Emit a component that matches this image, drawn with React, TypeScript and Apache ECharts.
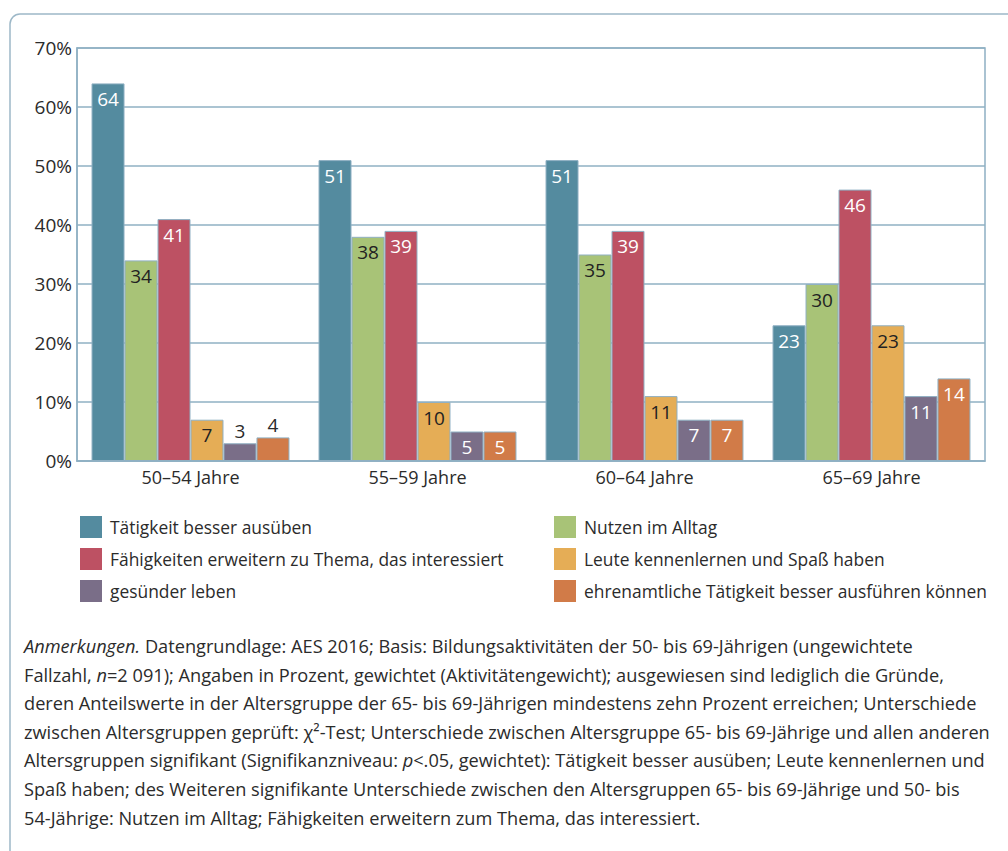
import React, { useEffect, useRef } from "react";
import * as echarts from "echarts";

const categories = ["50–54 Jahre", "55–59 Jahre", "60–64 Jahre", "65–69 Jahre"];
const seriesNames = [
  "Tätigkeit besser ausüben",
  "Nutzen im Alltag",
  "Fähigkeiten erweitern zu Thema, das interessiert",
  "Leute kennenlernen und Spaß haben",
  "gesünder leben",
  "ehrenamtliche Tätigkeit besser ausführen können",
];
const taetigkeit = [64, 51, 51, 23];
const nutzen = [34, 38, 35, 30];
const faehigkeiten = [41, 39, 39, 46];
const leute = [7, 10, 11, 23];
const gesuender = [3, 5, 7, 11];
const ehrenamt = [4, 5, 7, 14];
const seriesValues = [taetigkeit, nutzen, faehigkeiten, leute, gesuender, ehrenamt];
const yTicks = [0, 10, 20, 30, 40, 50, 60, 70];

const colors = ["#548b9f", "#a8c377", "#bd5163", "#e5ad56", "#7a6e88", "#d17b48"];
const labelColors = ["#ffffff", "#222222", "#ffffff", "#222222", "#ffffff", "#ffffff"];

const noteLines = [
  "{i|Anmerkungen.} Datengrundlage: AES 2016; Basis: Bildungsaktivitäten der 50- bis 69-Jährigen (ungewichtete",
  "Fallzahl, {i|n}=2 091); Angaben in Prozent, gewichtet (Aktivitätengewicht); ausgewiesen sind lediglich die Gründe,",
  "deren Anteilswerte in der Altersgruppe der 65- bis 69-Jährigen mindestens zehn Prozent erreichen; Unterschiede",
  "zwischen Altersgruppen geprüft: χ²-Test; Unterschiede zwischen Altersgruppe 65- bis 69-Jährige und allen anderen",
  "Altersgruppen signifikant (Signifikanzniveau: {i|p}<.05, gewichtet): Tätigkeit besser ausüben; Leute kennenlernen und",
  "Spaß haben; des Weiteren signifikante Unterschiede zwischen den Altersgruppen 65- bis 69-Jährige und 50- bis",
  "54-Jährige: Nutzen im Alltag; Fähigkeiten erweitern zum Thema, das interessiert.",
];

const FONT = "'Open Sans', Roboto, sans-serif";
const TEXT = "#2b2b2b";
const LINE = "#8fb0c3";
const NOTE_SIZE = 18.2;

export default function App() {
  const ref = useRef<HTMLDivElement>(null);
  useEffect(() => {
    if (!ref.current) return;
    const chart = echarts.init(ref.current, undefined, { renderer: "svg" });
    const series = seriesValues.map((vals, si) => ({
      name: seriesNames[si],
      type: "bar",
      barGap: "0%",
      barCategoryGap: "12.8%",
      itemStyle: { color: colors[si], borderColor: LINE, borderWidth: 1 },
      label: {
        show: true,
        position: "insideTop",
        distance: 6,
        color: labelColors[si],
        fontSize: 19,
        fontFamily: FONT,
      },
      data: vals.map((v) =>
        v < 5
          ? { value: v, label: { position: "top", distance: 3, color: TEXT } }
          : { value: v }
      ),
    }));

    const legendBase = {
      top: 511,
      orient: "vertical",
      itemWidth: 22,
      itemHeight: 22,
      itemGap: 10,
      icon: "rect",
      itemStyle: { borderWidth: 0 },
      textStyle: { fontSize: 17.4, color: TEXT, fontFamily: FONT, padding: [0, 0, 0, 3] },
    };

    chart.setOption({
      animation: false,
      textStyle: { fontFamily: FONT, color: TEXT },
      grid: {
        left: 77,
        right: 23,
        top: 48,
        bottom: 390,
        show: true,
        borderColor: LINE,
        borderWidth: 1.5,
      },
      xAxis: {
        type: "category",
        data: categories,
        axisLine: { lineStyle: { color: LINE, width: 1.5 } },
        axisTick: { show: false },
        axisLabel: { fontSize: 18, color: TEXT, margin: 7, fontFamily: FONT },
      },
      yAxis: {
        type: "value",
        min: yTicks[0],
        max: yTicks[yTicks.length - 1],
        interval: 10,
        axisLine: { show: true, lineStyle: { color: LINE, width: 1.5 } },
        axisTick: { show: false },
        splitLine: { lineStyle: { color: LINE, width: 1.5 } },
        axisLabel: { fontSize: 19, color: TEXT, margin: 5, formatter: "{value}%", fontFamily: FONT },
      },
      legend: [
        { ...legendBase, left: 75, data: [seriesNames[0], seriesNames[2], seriesNames[4]] },
        { ...legendBase, left: 549, data: [seriesNames[1], seriesNames[3], seriesNames[5]] },
      ],
      graphic: [
        {
          type: "rect",
          shape: { x: 10, y: 14, width: 1200, height: 1000, r: 10 },
          style: { fill: "none", stroke: "#9db8c8", lineWidth: 1.5 },
          silent: true,
        },
        ...noteLines.map((line, i) => ({
          type: "text",
          left: 24,
          top: 637 + i * 28.6,
          style: {
            text: line,
            fontSize: NOTE_SIZE,
            fontFamily: FONT,
            fill: TEXT,
            rich: {
              i: { fontStyle: "italic", fontSize: NOTE_SIZE, fontFamily: FONT, fill: TEXT },
            },
          },
        })),
      ],
      series,
    });
    return () => chart.dispose();
  }, []);
  return (
    <div
      ref={ref}
      style={{ position: "fixed", left: 0, top: 0, width: 1008, height: 851, background: "#fff" }}
    />
  );
}
